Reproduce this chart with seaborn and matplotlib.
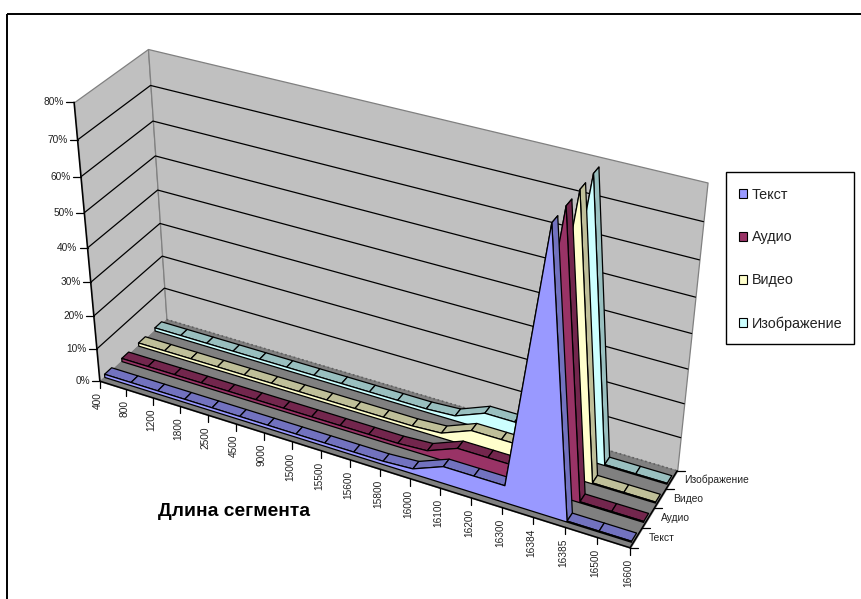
import numpy as np
import matplotlib
matplotlib.use("Agg")
import matplotlib.pyplot as plt
import seaborn as sns
from matplotlib.axes import Axes
from matplotlib.patches import Patch, Rectangle
from mpl_toolkits.mplot3d import proj3d
from mpl_toolkits.mplot3d.art3d import Poly3DCollection

categories = ["400", "800", "1200", "1800", "2500", "4500", "9000", "15000", "15500", "15600",
              "15800", "16000", "16100", "16200", "16300", "16384", "16385", "16500", "16600"]
series_names = ["Текст", "Аудио", "Видео", "Изображение"]
pct_ticks = [0, 10, 20, 30, 40, 50, 60, 70, 80]

text_values = [1, 1, 1, 1, 1, 1, 1, 1, 1, 1, 1, 1.5, 5, 5, 5, 79, 0.3, 0.3, 0.3]
audio_values = [1, 1, 1, 1, 1, 1, 1, 1, 1, 1, 1, 1.5, 5, 5, 5, 79, 0.3, 0.3, 0.3]
video_values = [1, 1, 1, 1, 1, 1, 1, 1, 1, 1, 1, 1.5, 5, 5, 5, 79, 0.3, 0.3, 0.3]
image_values = [1, 1, 1, 1, 1, 1, 1, 1, 1, 1, 1, 1.5, 5, 5, 5, 79, 0.3, 0.3, 0.3]
all_values = [text_values, audio_values, video_values, image_values]

front_colors = ["#9999FF", "#993366", "#FFFFCC", "#CCFFFF"]
top_colors = ["#7272BF", "#73264D", "#BFBF99", "#99BFBF"]

# camera: world points (category, series, percent) and where they sit in the picture
calib_world = [(0, 0, 0), (0, 0, 40), (0, 0, 80), (0, 4, 0), (0, 4, 20), (0, 4, 80),
               (18, 4, 0), (18, 4, 40), (18, 4, 80), (18, 0, 0)]
calib_px = [(99.5, 382), (87.5, 247), (74, 103), (167, 319), (162, 256), (148, 49),
            (677, 471.5), (691, 334), (708, 182), (630.5, 547)]

rows = []
for (x, y, z), (u, v) in zip(calib_world, calib_px):
    rows.append([x, y, z, 1, 0, 0, 0, 0, -u * x, -u * y, -u * z, -u])
    rows.append([0, 0, 0, 0, x, y, z, 1, -v * x, -v * y, -v * z, -v])
P = np.linalg.svd(np.array(rows, dtype=float))[2][-1].reshape(3, 4)
M = np.vstack([P[0], P[1], [0, 1, 0, 0], P[2]])

sns.set_theme(style="white")
plt.rcParams["font.family"] = ["Liberation Sans", "DejaVu Sans"]

fig = plt.figure(figsize=(8.62, 5.99), dpi=100)
ax = fig.add_axes([0, 0, 1, 1], projection="3d")
ax.set_proj_type("ortho")
ax.apply_aspect = lambda position=None: None
ax.get_proj = lambda: M
ax.viewLim.intervalx = (0, 862)
ax.viewLim.intervaly = (599, 0)
ax.computed_zorder = False
ax.set_axis_off()
ax.set_autoscale_on(False)

order = [1]


def poly(verts, face, edge="black", lw=0.9):
    order[0] += 1
    col = Poly3DCollection([verts], facecolor=face, edgecolor=edge, linewidths=lw, zorder=order[0])
    ax.add_collection3d(col, autolim=False)


def line(xs, ys, zs, color="black", lw=0.9, **kw):
    order[0] += 1
    ax.plot(xs, ys, zs, color=color, lw=lw, zorder=order[0], **kw)


def to2d(x, y, z):
    px, py, _ = proj3d.proj_transform(x, y, z, M)
    return float(px), float(py)


xmax = len(categories) - 1
ymax = len(series_names)
zmax = pct_ticks[-1]
grey = "#808080"

# walls and floor
poly([(0, 0, 0), (0, ymax, 0), (0, ymax, zmax), (0, 0, zmax)], "#C0C0C0", grey)
poly([(0, ymax, 0), (xmax, ymax, 0), (xmax, ymax, zmax), (0, ymax, zmax)], "#C0C0C0", grey)
for p in pct_ticks[1:-1]:
    line([0, 0, xmax], [0, ymax, ymax], [p, p, p])
poly([(0, 0, 0), (xmax, 0, 0), (xmax, ymax, 0), (0, ymax, 0)], grey, grey)
line([0, xmax], [ymax, ymax], [0, 0], color="#606060", lw=1.2, linestyle=":")

# ribbons, back series first; they stop just short of the right edge of the floor
y_front, y_back = 0.26, 0.67
xs = np.arange(len(categories)) * 0.996
for s in reversed(range(len(series_names))):
    vals = all_values[s]
    y0, y1 = s + y_front, s + y_back
    for i in range(xmax):
        poly([(xs[i], y0, vals[i]), (xs[i + 1], y0, vals[i + 1]),
              (xs[i + 1], y1, vals[i + 1]), (xs[i], y1, vals[i])], top_colors[s])
    poly([(x, y0, v) for x, v in zip(xs, vals)] + [(xs[-1], y0, 0), (0, y0, 0)], front_colors[s])

# axis lines
line([0, 0], [0, 0], [0, zmax], lw=1.1)
line([0, xmax], [0, 0], [0, 0], lw=1.1)
line([xmax, xmax], [0, ymax], [0, 0], lw=1.1)

label_color = "#222222"
for p in pct_ticks:
    px, py = to2d(0, 0, p)
    Axes.plot(ax, [px - 8, px], [py, py], color="black", lw=0.9, zorder=900)
    Axes.text(ax, px - 10, py, f"{p}%", ha="right", va="center", fontsize=7.3, color=label_color)

for i, lab in enumerate(categories):
    px, py = to2d(i, 0, 0)
    Axes.plot(ax, [px, px], [py, py + 7], color="black", lw=0.9, zorder=900)
    Axes.text(ax, px - 2, py + 11, lab, rotation=90, ha="center", va="top", fontsize=7.3, color=label_color)

for k in range(ymax + 1):
    px, py = to2d(xmax, k, 0)
    Axes.plot(ax, [px, px + 8], [py, py], color="black", lw=0.9, zorder=900)
for k, lab in enumerate(series_names):
    px, py = to2d(xmax, k + 0.5, 0)
    Axes.text(ax, px + 13, py, lab, ha="left", va="center", fontsize=7.4, color=label_color)

Axes.text(ax, 234.5, 511.5, "Длина сегмента", ha="center", va="center", fontsize=13.9, fontweight="bold", color="black")

# outer frame runs off the right and bottom of the picture
fig.add_artist(Rectangle((7.5 / 862, 1 - 14 / 599), 1.2, -1.2, transform=fig.transFigure,
                         fill=False, edgecolor="black", lw=1.4))
fig.add_artist(Rectangle((726 / 862, 1 - 344 / 599), 128 / 862, 172 / 599, transform=fig.transFigure,
                         facecolor="white", edgecolor="black", lw=1.0))
handles = [Patch(facecolor=c, edgecolor="black", lw=0.8) for c in front_colors]
fig.legend(handles, series_names, loc="upper left", bbox_to_anchor=(739 / 862, 1 - 187.5 / 599),
           frameon=False, fontsize=10.4, labelspacing=2.0, handlelength=0.58, handleheight=0.58,
           handletextpad=0.3, borderpad=0, borderaxespad=0, labelcolor=label_color)

fig.savefig("out.png", dpi=100, facecolor="white")
